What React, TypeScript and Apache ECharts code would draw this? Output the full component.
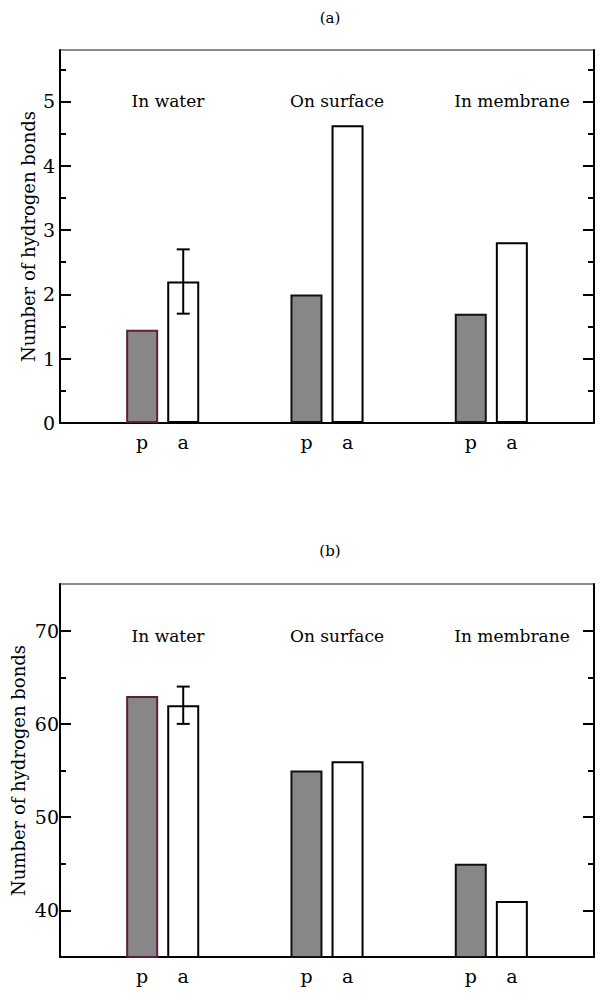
import { useEffect, useRef } from 'react'
import * as echarts from 'echarts'

// x slots on the category axis: each group has a 'p' and an 'a' bar
const slots = ['', '', 'p', 'a', '', '', 'p', 'a', '', '', 'p', 'a', '', '']
const groups = ['In water', 'On surface', 'In membrane']

// panel (a)
const pValuesA = [1.45, 2.0, 1.7]
const aValuesA = [2.2, 4.63, 2.81]
const errLowA = 1.7
const errHighA = 2.7
const ticksA = [0, 1, 2, 3, 4, 5]
const minorA = [0.5, 1.5, 2.5, 3.5, 4.5, 5.5]

// panel (b)
const pValuesB = [63, 55, 45]
const aValuesB = [62, 56, 41]
const errLowB = 60
const errHighB = 64
const ticksB = [40, 50, 60, 70]
const minorB = [45, 55, 65]

const FONT = 'DejaVu Serif'
const GRAY = '#878787'

function barData(pVals: number[], aVals: number[]) {
  const out: any[] = slots.map(() => '-')
  groups.forEach((_, g) => {
    out[2 + g * 4] = {
      value: pVals[g],
      itemStyle: { color: GRAY, borderColor: g === 0 ? '#5b1f40' : '#111', borderWidth: 2 },
    }
    out[3 + g * 4] = {
      value: aVals[g],
      itemStyle: { color: '#fff', borderColor: '#000', borderWidth: 2 },
    }
  })
  return out
}

function yAxes(gridIndex: number, min: number, max: number, major: number[], minor: number[], nameGap: number, labelMargin: number) {
  const common = { type: 'value', gridIndex, min, max, splitLine: { show: false } }
  return [
    {
      ...common,
      position: 'left',
      name: 'Number of hydrogen bonds',
      nameLocation: 'middle',
      nameGap,
      nameMoveOverlap: false,
      nameTextStyle: { fontFamily: FONT, fontSize: 18, color: '#000' },
      axisLine: { show: true, lineStyle: { color: '#000', width: 2 } },
      axisTick: { show: true, inside: true, length: 11, customValues: major, lineStyle: { color: '#000', width: 2 } },
      axisLabel: { customValues: major, fontFamily: FONT, fontSize: 19, color: '#000', margin: labelMargin },
    },
    {
      ...common,
      position: 'left',
      axisLine: { show: false },
      axisTick: { show: true, inside: true, length: 6, customValues: minor, lineStyle: { color: '#000', width: 2 } },
      axisLabel: { show: false },
    },
    {
      ...common,
      position: 'right',
      axisLine: { show: true, lineStyle: { color: '#000', width: 2 } },
      axisTick: { show: true, inside: true, length: 11, customValues: major, lineStyle: { color: '#000', width: 2 } },
      axisLabel: { show: false },
    },
    {
      ...common,
      position: 'right',
      axisLine: { show: false },
      axisTick: { show: true, inside: true, length: 6, customValues: minor, lineStyle: { color: '#000', width: 2 } },
      axisLabel: { show: false },
    },
  ]
}

function errorSeries(xAxisIndex: number, yAxisIndex: number, low: number, high: number) {
  return {
    type: 'custom',
    xAxisIndex,
    yAxisIndex,
    z: 5,
    encode: { x: 0, y: [1, 2] },
    data: [[3, low, high]],
    renderItem: (_params: any, api: any) => {
      const lo = api.coord([api.value(0), api.value(1)])
      const hi = api.coord([api.value(0), api.value(2)])
      const cap = 6.5
      const style = { stroke: '#000', lineWidth: 2 }
      return {
        type: 'group',
        children: [
          { type: 'line', shape: { x1: lo[0], y1: lo[1], x2: hi[0], y2: hi[1] }, style },
          { type: 'line', shape: { x1: lo[0] - cap, y1: lo[1], x2: lo[0] + cap, y2: lo[1] }, style },
          { type: 'line', shape: { x1: hi[0] - cap, y1: hi[1], x2: hi[0] + cap, y2: hi[1] }, style },
        ],
      }
    },
  }
}

const labelX = [168, 337, 512]

export default function App() {
  const chartRef = useRef<HTMLDivElement>(null)

  useEffect(() => {
    if (!chartRef.current) return
    const chart = echarts.init(chartRef.current, null, { renderer: 'svg' })

    const xAxis = (gridIndex: number) => ({
      type: 'category',
      gridIndex,
      data: slots,
      boundaryGap: false,
      axisLine: { show: true, lineStyle: { color: '#000', width: 2 } },
      axisTick: { show: false },
      axisLabel: { interval: 0, fontFamily: FONT, fontSize: 19, color: '#000', margin: 9 },
      splitLine: { show: false },
    })

    const text = (t: string, x: number, y: number, size: number) => ({
      type: 'text',
      x,
      y,
      style: { text: t, fontFamily: FONT, fontSize: size, fill: '#000', align: 'center', verticalAlign: 'middle' },
    })

    const option: any = {
      animation: false,
      backgroundColor: '#fff',
      textStyle: { fontFamily: FONT },
      grid: [
        { left: 60, width: 534, top: 50, height: 373, show: true, borderColor: '#666', borderWidth: 1.5, backgroundColor: '#fff', outerBoundsMode: 'none' },
        { left: 60, width: 534, top: 584, height: 373, show: true, borderColor: '#666', borderWidth: 1.5, backgroundColor: '#fff', outerBoundsMode: 'none' },
      ],
      xAxis: [xAxis(0), xAxis(1)],
      yAxis: [...yAxes(0, 0, 5.8, ticksA, minorA, 23, 5), ...yAxes(1, 35, 75, ticksB, minorB, 33, 1)],
      series: [
        { type: 'bar', xAxisIndex: 0, yAxisIndex: 0, barWidth: 32, data: barData(pValuesA, aValuesA) },
        errorSeries(0, 0, errLowA, errHighA),
        { type: 'bar', xAxisIndex: 1, yAxisIndex: 4, barWidth: 32, data: barData(pValuesB, aValuesB) },
        errorSeries(1, 4, errLowB, errHighB),
      ],
      graphic: [
        text('(a)', 330, 18, 15),
        text('(b)', 330, 551, 15),
        ...groups.map((g, i) => text(g, labelX[i], 101, 17)),
        ...groups.map((g, i) => text(g, labelX[i], 636, 17)),
      ],
    }

    chart.setOption(option)
    return () => {
      chart.dispose()
    }
  }, [])

  return (
    <div
      ref={chartRef}
      style={{ position: 'fixed', left: 0, top: 0, width: '610px', height: '1000px', background: '#fff' }}
    />
  )
}
